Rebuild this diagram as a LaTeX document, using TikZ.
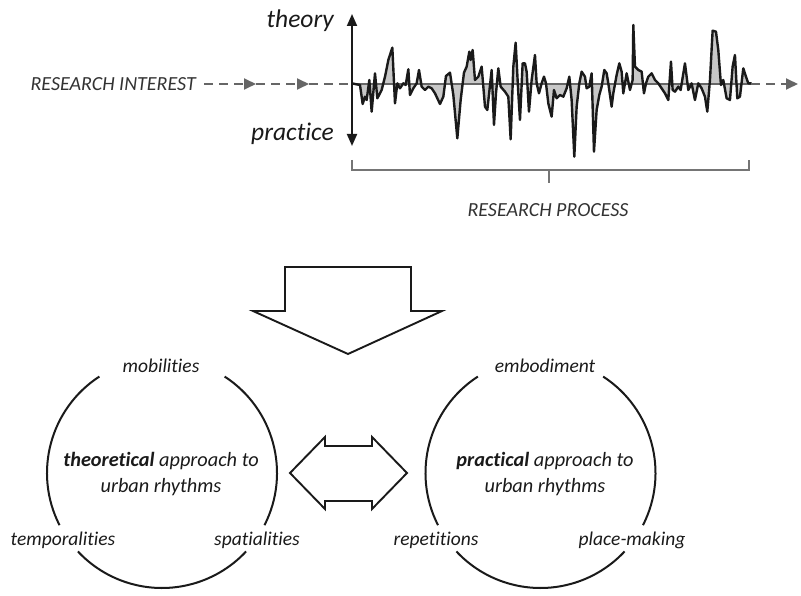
\documentclass[tikz,border=0pt]{standalone}
\usepackage{fontspec}
\setmainfont{Carlito}[Ligatures=NoCommon]
\usetikzlibrary{arrows.meta}
\definecolor{ink}{HTML}{1A1A1A}
\definecolor{dashgray}{HTML}{666666}
\definecolor{txtgray}{HTML}{333333}
\definecolor{fillgray}{HTML}{C8C8C8}
\tikzset{
  lbl/.style={font=\fontsize{19.5}{23}\selectfont\itshape, text=ink, inner sep=0pt},
  biglbl/.style={font=\fontsize{25.5}{30}\selectfont\itshape, text=ink, inner sep=0pt},
  caps/.style={font=\fontsize{20}{23}\selectfont\itshape, text=txtgray, inner sep=0pt},
  centertxt/.style={font=\fontsize{20.3}{25.5}\selectfont\itshape, text=ink, align=center, inner sep=0pt},
  dashline/.style={draw=dashgray, line width=1.8pt, dash pattern=on 9pt off 6pt},
  gtip/.style={-{Triangle[length=12pt,width=11pt]}},
  ring/.style={draw=ink, line width=2pt},
  outline/.style={draw=ink, line width=1.9pt, line join=miter},
  brk/.style={draw=dashgray!90, line width=1.8pt},
}
\begin{document}
\begin{tikzpicture}[x=1pt,y=1pt]
\useasboundingbox (0,0) rectangle (801,-596);

% ---------- top part ----------
\node[caps, anchor=base east] (ri) at (196,-91) {RESEARCH INTEREST};
\coordinate (d0) at (204,-84);
\coordinate (a1) at (256,-84);
\coordinate (a2) at (309,-84);
\coordinate (ws) at (352,-84);
\coordinate (we) at (751,-84);
\coordinate (dend) at (798,-84);

\draw[dashline, gtip, dashgray] (d0) -- (a1);
\draw[dashline, gtip, dashgray] (a1) -- (a2);
\draw[dashline] (a2) -- (ws);

% waveform
\begin{scope}[shift={(340pt,0pt)}, x=0.3333pt, y=-0.3333pt]
\fill[fillgray] (35,250) -- (60,255) -- (68,312) -- (75,290) -- (80,300) -- (88,240) -- (95,335) -- (105,220) -- (112,295) -- (125,270) -- (135,230) -- (145,180) -- (157,143) -- (165,310) -- (172,250) -- (180,265) -- (190,250) -- (197,255) -- (205,208) -- (210,285) -- (220,265) -- (230,250) -- (237,210) -- (245,260) -- (255,270) -- (265,260) -- (275,265) -- (285,280) -- (300,312) -- (310,290) -- (318,228) -- (330,218) -- (340,285) -- (352,415) -- (362,300) -- (372,218) -- (380,200) -- (388,155) -- (392,180) -- (398,150) -- (405,240) -- (415,230) -- (425,200) -- (435,320) -- (442,330) -- (455,210) -- (462,375) -- (468,280) -- (475,205) -- (482,260) -- (495,275) -- (505,290) -- (512,418) -- (520,200) -- (527,128) -- (535,280) -- (540,360) -- (548,190) -- (555,190) -- (560,215) -- (567,335) -- (575,240) -- (585,165) -- (590,250) -- (597,280) -- (605,250) -- (612,230) -- (618,250) -- (625,310) -- (635,350) -- (642,270) -- (650,295) -- (660,285) -- (670,290) -- (680,265) -- (688,230) -- (695,300) -- (703,470) -- (710,320) -- (718,250) -- (725,215) -- (735,230) -- (740,265) -- (748,260) -- (755,220) -- (762,455) -- (770,330) -- (778,285) -- (785,260) -- (793,210) -- (800,220) -- (805,250) -- (815,320) -- (820,280) -- (830,225) -- (838,190) -- (845,215) -- (850,280) -- (860,220) -- (870,270) -- (878,240) -- (880,75) -- (885,200) -- (895,210) -- (905,215) -- (912,280) -- (918,250) -- (925,230) -- (935,220) -- (945,240) -- (955,250) -- (965,265) -- (975,280) -- (985,300) -- (993,185) -- (998,270) -- (1005,275) -- (1015,260) -- (1022,270) -- (1035,190) -- (1045,270) -- (1055,250) -- (1065,300) -- (1075,250) -- (1085,265) -- (1095,290) -- (1102,335) -- (1110,240) -- (1118,92) -- (1128,95) -- (1135,150) -- (1143,255) -- (1150,240) -- (1160,295) -- (1170,300) -- (1178,200) -- (1185,165) -- (1192,295) -- (1200,290) -- (1210,205) -- (1218,230) -- (1225,250) -- (1235,250) -- cycle;
\end{scope}
\draw[draw=dashgray, line width=1.4pt] (ws) -- (we);
\begin{scope}[shift={(340pt,0pt)}, x=0.3333pt, y=-0.3333pt]
\draw[ink, line width=2.4pt, line join=round] (35,250) -- (60,255) -- (68,312) -- (75,290) -- (80,300) -- (88,240) -- (95,335) -- (105,220) -- (112,295) -- (125,270) -- (135,230) -- (145,180) -- (157,143) -- (165,310) -- (172,250) -- (180,265) -- (190,250) -- (197,255) -- (205,208) -- (210,285) -- (220,265) -- (230,250) -- (237,210) -- (245,260) -- (255,270) -- (265,260) -- (275,265) -- (285,280) -- (300,312) -- (310,290) -- (318,228) -- (330,218) -- (340,285) -- (352,415) -- (362,300) -- (372,218) -- (380,200) -- (388,155) -- (392,180) -- (398,150) -- (405,240) -- (415,230) -- (425,200) -- (435,320) -- (442,330) -- (455,210) -- (462,375) -- (468,280) -- (475,205) -- (482,260) -- (495,275) -- (505,290) -- (512,418) -- (520,200) -- (527,128) -- (535,280) -- (540,360) -- (548,190) -- (555,190) -- (560,215) -- (567,335) -- (575,240) -- (585,165) -- (590,250) -- (597,280) -- (605,250) -- (612,230) -- (618,250) -- (625,310) -- (635,350) -- (642,270) -- (650,295) -- (660,285) -- (670,290) -- (680,265) -- (688,230) -- (695,300) -- (703,470) -- (710,320) -- (718,250) -- (725,215) -- (735,230) -- (740,265) -- (748,260) -- (755,220) -- (762,455) -- (770,330) -- (778,285) -- (785,260) -- (793,210) -- (800,220) -- (805,250) -- (815,320) -- (820,280) -- (830,225) -- (838,190) -- (845,215) -- (850,280) -- (860,220) -- (870,270) -- (878,240) -- (880,75) -- (885,200) -- (895,210) -- (905,215) -- (912,280) -- (918,250) -- (925,230) -- (935,220) -- (945,240) -- (955,250) -- (965,265) -- (975,280) -- (985,300) -- (993,185) -- (998,270) -- (1005,275) -- (1015,260) -- (1022,270) -- (1035,190) -- (1045,270) -- (1055,250) -- (1065,300) -- (1075,250) -- (1085,265) -- (1095,290) -- (1102,335) -- (1110,240) -- (1118,92) -- (1128,95) -- (1135,150) -- (1143,255) -- (1150,240) -- (1160,295) -- (1170,300) -- (1178,200) -- (1185,165) -- (1192,295) -- (1200,290) -- (1210,205) -- (1218,230) -- (1225,250) -- (1235,250);
\end{scope}
\draw[dashline, gtip, dashgray] (we) -- (dend);

% theory / practice axis
\coordinate (vt) at (352,-14);
\coordinate (vb) at (352,-146);
\draw[ink, line width=1.9pt, {Triangle[length=12pt,width=10pt]}-{Triangle[length=12pt,width=10pt]}] (vt) -- (vb);
\node[biglbl, anchor=base east] (theory) at (334,-28) {theory};
\node[biglbl, anchor=base east] (practice) at (334,-141) {practice};

% bracket
\coordinate (bl) at (352,-160);
\coordinate (br) at (749,-160);
\draw[brk] (bl) |- (549,-170) -| (br);
\draw[brk] (549,-170) -- (549,-183);
\node[caps] (rp) at (548,-210) {RESEARCH PROCESS};

% ---------- big down arrow ----------
\draw[outline, fill=white] (285,-267) -- (411,-267) -- (411,-311) -- (442,-311) -- (348,-354) -- (253,-311) -- (285,-311) -- cycle;

% ---------- left circle ----------
\node[centertxt] (lc) at (161,-474) {\textbf{theoretical} approach to\\urban rhythms};
\coordinate (lcc) at (162,-473);
\draw[ring] (lcc) ++(-27:115pt) arc[start angle=-27, end angle=57, radius=115pt];
\draw[ring] (lcc) ++(123:115pt) arc[start angle=123, end angle=207, radius=115pt];
\draw[ring] (lcc) ++(223:115pt) arc[start angle=223, end angle=317, radius=115pt];
\node[lbl] (mob) at (161,-366) {mobilities};
\node[lbl] (temp) at (63,-540) {temporalities};
\node[lbl] (spat) at (257,-540) {spatialities};

% ---------- right circle ----------
\node[centertxt] (rc) at (545,-474) {\textbf{practical} approach to\\urban rhythms};
\coordinate (rcc) at (540.5,-473);
\draw[ring] (rcc) ++(-27:115pt) arc[start angle=-27, end angle=57, radius=115pt];
\draw[ring] (rcc) ++(123:115pt) arc[start angle=123, end angle=207, radius=115pt];
\draw[ring] (rcc) ++(223:115pt) arc[start angle=223, end angle=317, radius=115pt];
\node[lbl] (emb) at (545,-366) {embodiment};
\node[lbl] (rep) at (436,-540) {repetitions};
\node[lbl] (place) at (632,-540) {place-making};

% ---------- double arrow ----------
\draw[outline, fill=white] (290,-473) -- (325,-437) -- (325,-446) -- (372,-446) -- (372,-437) -- (407,-473) -- (372,-509) -- (372,-501) -- (325,-501) -- (325,-509) -- cycle;
\end{tikzpicture}
\end{document}
